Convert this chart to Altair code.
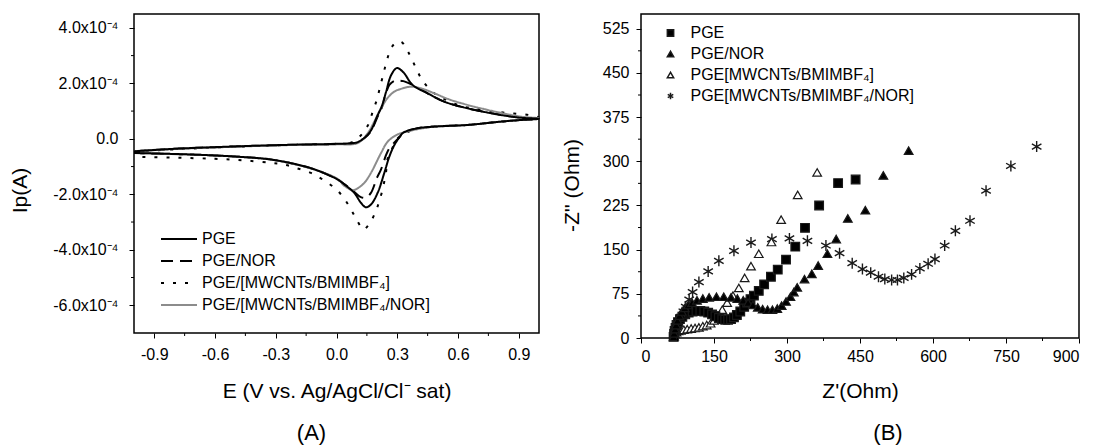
import altair as alt
import pandas as pd

FONT = "Liberation Sans"

# ---------------- Panel A: cyclic voltammograms (current in 1e-4 A) ----------------
cv_labels = ["PGE", "PGE/NOR", "PGE/[MWCNTs/BMIMBF\u2084]", "PGE/[MWCNTs/BMIMBF\u2084/NOR]"]

pge_E = [-1.0, -0.8, -0.6, -0.4, -0.2, 0.0, 0.1, 0.14, 0.17, 0.2, 0.225, 0.245, 0.27, 0.298, 0.33, 0.376,
         0.45, 0.532, 0.647, 0.812, 0.911, 1.0,
         0.911, 0.812, 0.647, 0.483, 0.4, 0.33, 0.31, 0.286, 0.261, 0.236, 0.203, 0.17, 0.146, 0.121, 0.088,
         0.04, 0.006, -0.08, -0.16, -0.32, -0.5, -0.7, -1.0]
pge_I = [-0.45, -0.36, -0.3, -0.25, -0.21, -0.18, -0.13, 0.05, 0.3, 0.8, 1.2, 1.7, 2.3, 2.55, 2.4, 1.94,
         1.64, 1.34, 1.1, 0.86, 0.76, 0.72,
         0.68, 0.62, 0.5, 0.44, 0.38, 0.22, 0.05, -0.22, -0.64, -1.23, -1.95, -2.37, -2.47, -2.31, -1.95,
         -1.65, -1.47, -1.18, -0.99, -0.75, -0.64, -0.57, -0.51]

nor_E = [-1.0, -0.8, -0.6, -0.4, -0.2, 0.0, 0.1, 0.14, 0.17, 0.2, 0.225, 0.24, 0.262, 0.29, 0.31, 0.33,
         0.376, 0.45, 0.532, 0.647, 0.812, 0.911, 1.0,
         0.911, 0.812, 0.647, 0.483, 0.4, 0.33, 0.31, 0.29, 0.26, 0.244, 0.22, 0.2, 0.17, 0.145, 0.12,
         0.088, 0.04, 0.006, -0.08, -0.16, -0.32, -0.5, -0.7, -1.0]
nor_I = [-0.45, -0.36, -0.3, -0.25, -0.21, -0.18, -0.13, 0.04, 0.28, 0.75, 1.15, 1.55, 1.95, 2.1, 2.1, 2.08,
         1.94, 1.64, 1.34, 1.1, 0.86, 0.76, 0.72,
         0.68, 0.62, 0.5, 0.44, 0.38, 0.22, 0.05, -0.1, -0.35, -0.6, -1.1, -1.4, -1.95, -2.12, -2.1,
         -1.92, -1.64, -1.47, -1.18, -0.99, -0.75, -0.64, -0.57, -0.51]

mw_E = [-1.0, -0.8, -0.6, -0.4, -0.2, 0.0, 0.07, 0.114, 0.154, 0.179, 0.2, 0.216, 0.233, 0.249, 0.273,
        0.3, 0.322, 0.36, 0.393, 0.426, 0.483, 0.549, 0.615, 0.677, 0.743, 0.809, 0.875, 0.95, 1.0,
        0.911, 0.812, 0.647, 0.483, 0.4, 0.335, 0.3, 0.275, 0.253, 0.244, 0.223, 0.2, 0.17, 0.135, 0.124,
        0.088, 0.047, 0.0, -0.068, -0.126, -0.2, -0.258, -0.323, -0.45, -0.6, -0.8, -1.0]
mw_I = [-0.45, -0.38, -0.31, -0.26, -0.22, -0.19, -0.14, 0.08, 0.47, 0.98, 1.43, 1.9, 2.38, 2.84, 3.31,
        3.5, 3.49, 3.05, 2.54, 2.09, 1.64, 1.38, 1.18, 1.1, 1.02, 0.96, 0.91, 0.86, 0.76,
        0.68, 0.62, 0.5, 0.44, 0.38, 0.18, 0.0, -0.35, -0.7, -1.23, -1.95, -2.49, -2.97, -3.27, -3.21,
        -2.76, -2.25, -1.83, -1.47, -1.23, -1.05, -0.93, -0.87, -0.78, -0.72, -0.68, -0.65]

mwnor_E = [-1.0, -0.8, -0.6, -0.4, -0.2, 0.0, 0.105, 0.154, 0.185, 0.22, 0.25, 0.285, 0.327, 0.368, 0.417,
           0.483, 0.565, 0.73, 0.911, 1.0,
           0.911, 0.812, 0.647, 0.483, 0.37, 0.3, 0.253, 0.22, 0.17, 0.137, 0.105, 0.08, 0.04, 0.006,
           -0.08, -0.16, -0.32, -0.5, -0.7, -1.0]
mwnor_I = [-0.45, -0.37, -0.31, -0.26, -0.22, -0.2, -0.15, 0.2, 0.6, 1.1, 1.45, 1.7, 1.82, 1.88, 1.82,
           1.64, 1.4, 1.07, 0.8, 0.74,
           0.68, 0.62, 0.5, 0.44, 0.3, 0.15, -0.1, -0.51, -1.23, -1.59, -1.78, -1.85, -1.7, -1.45,
           -1.18, -1.0, -0.75, -0.64, -0.57, -0.51]

cv_ticks_x = [-0.9, -0.6, -0.3, 0.0, 0.3, 0.6, 0.9]
cv_minor_x = [-0.75, -0.45, -0.15, 0.15, 0.45, 0.75]
cv_ticks_y = [-6, -4, -2, 0, 2, 4]
cv_minor_y = [-5, -3, -1, 1, 3]

# ---------------- Panel B: Nyquist plots (Ohm) ----------------
eis_labels = ["PGE", "PGE/NOR", "PGE[MWCNTs/BMIMBF\u2084]", "PGE[MWCNTs/BMIMBF\u2084/NOR]"]

pge_zr = [67, 68, 69, 71, 73, 76, 80, 85, 91, 98, 106, 114, 122, 130, 138, 146, 153, 160, 167, 173, 179,
          185, 191, 197, 204, 212, 218, 225, 232, 242, 253, 267, 281, 298, 317, 337, 366, 405, 441]
pge_zi = [2, 7, 12, 17, 22, 27, 32, 36, 40, 43, 45, 46, 46, 45, 43, 40, 37, 34, 32, 31, 31,
          32, 35, 39, 45, 53, 60, 66, 72, 80, 91, 104, 116, 133, 155, 187, 225, 263, 269]

nor_zr = [67, 68, 70, 72, 75, 79, 84, 90, 97, 105, 115, 127, 140, 155, 170, 185, 198, 210, 220, 230, 240,
          250, 260, 270, 280, 289, 298, 307, 314, 321, 336, 351, 364, 383, 401, 425, 461, 498, 550]
nor_zi = [2, 8, 15, 22, 30, 38, 45, 51, 56, 60, 64, 67, 69, 70, 70, 69, 67, 64, 60, 56, 52,
          49, 48, 48, 50, 55, 62, 70, 78, 86, 100, 109, 123, 143, 168, 203, 217, 276, 318]

mw_zr = [68, 70, 73, 77, 82, 88, 95, 103, 111, 119, 127, 135, 143, 150, 158, 167, 177, 189, 201, 213,
         226, 242, 268, 288, 322, 362]
mw_zi = [3, 7, 10, 12, 13, 14, 15, 16, 17, 18, 20, 22, 25, 30, 38, 48, 60, 72, 85, 102,
         122, 143, 163, 201, 243, 281]

mwnor_zr = [68, 70, 73, 77, 82, 87, 92, 99, 106, 119, 138, 160, 191, 226, 269, 305, 342, 380, 408, 434,
            455, 472, 488, 501, 515, 527, 540, 556, 573, 590, 604, 624, 646, 676, 709, 760, 813]
mwnor_zi = [5, 12, 20, 28, 36, 45, 53, 65, 78, 95, 113, 131, 148, 162, 168, 169, 165, 157, 144, 127,
            117, 111, 104, 100, 98.5, 98.5, 102, 108, 118, 126, 134, 157, 182, 199, 250, 292, 325]

eis_ticks_x = [0, 150, 300, 450, 600, 750, 900]
eis_minor_x = [75, 225, 375, 525, 675, 825]
eis_ticks_y = [0, 75, 150, 225, 300, 375, 450, 525]
eis_minor_y = [37.5, 112.5, 187.5, 262.5, 337.5, 412.5, 487.5]


def frame(label, xs, ys, xn, yn):
    return pd.DataFrame({"series": label, xn: xs, yn: ys, "idx": list(range(len(xs)))})


# draw order: dashed, dotted, gray, solid on top
cv_df = pd.concat([
    frame(cv_labels[1], nor_E, nor_I, "E", "I"),
    frame(cv_labels[2], mw_E, mw_I, "E", "I"),
    frame(cv_labels[3], mwnor_E, mwnor_I, "E", "I"),
    frame(cv_labels[0], pge_E, pge_I, "E", "I"),
], ignore_index=True)

eis_df = pd.concat([
    frame(eis_labels[3], mwnor_zr, mwnor_zi, "zr", "zi"),
    frame(eis_labels[2], mw_zr, mw_zi, "zr", "zi"),
    frame(eis_labels[0], pge_zr, pge_zi, "zr", "zi"),
    frame(eis_labels[1], nor_zr, nor_zi, "zr", "zi"),
], ignore_index=True)

axis_style = dict(domain=False, grid=False, tickSize=5, tickColor="black", tickWidth=1,
                  labelFont=FONT, labelFontSize=16, labelColor="black",
                  titleFont=FONT, titleFontSize=21, titleColor="black", titleFontWeight="normal")

# ---------------- Panel A chart ----------------
WA, HA = 405, 319
xA = alt.Scale(domain=[-1, 1], nice=False, zero=False)
yA = alt.Scale(domain=[-7, 4.5], nice=False, zero=False)

axA_x = alt.Axis(values=cv_ticks_x, title="E (V vs. Ag/AgCl/Cl\u207b sat)",
                 labelExpr="(datum.value < 0 ? '-' : '') + format(abs(datum.value), '.1f')",
                 labelPadding=8, titleY=64, titleBaseline="alphabetic", **axis_style)
axA_y = alt.Axis(values=cv_ticks_y, title="Ip(A)",
                 labelExpr="datum.value == 0 ? '0.0' : (datum.value < 0 ? '-' : '') + format(abs(datum.value), '.1f') + 'x10\u207b\u2074'",
                 labelPadding=11, titleX=-104, titleY=176, titleAngle=270, titleAlign="center",
                 titleBaseline="bottom", **axis_style)

legA = alt.Legend(title=None, orient="none", legendX=25, legendY=217, direction="vertical",
                  symbolType="M-3,0L3,0", symbolSize=144, symbolStrokeWidth=2,
                  symbolOffset=12, labelOffset=15, padding=0, rowPadding=6,
                  labelFont=FONT, labelFontSize=16, labelColor="black", labelLimit=400)

linesA = alt.Chart(cv_df).mark_line(strokeWidth=2, interpolate="catmull-rom").encode(
    x=alt.X("E:Q", scale=xA, axis=axA_x),
    y=alt.Y("I:Q", scale=yA, axis=axA_y),
    color=alt.Color("series:N", scale=alt.Scale(domain=cv_labels,
                    range=["#000000", "#000000", "#000000", "#8c8c8c"]), legend=legA),
    strokeDash=alt.StrokeDash("series:N", scale=alt.Scale(domain=cv_labels,
                              range=[[1, 0], [12, 7], [3, 9], [1, 0]]), legend=legA),
    order=alt.Order("idx:Q"),
)

minorAx = alt.Chart(pd.DataFrame({"E": cv_minor_x})).mark_rule(color="black", strokeWidth=1).encode(
    x=alt.X("E:Q", scale=xA, axis=axA_x), y=alt.value(HA), y2=alt.value(HA + 3))
minorAy = alt.Chart(pd.DataFrame({"I": cv_minor_y})).mark_rule(color="black", strokeWidth=1).encode(
    y=alt.Y("I:Q", scale=yA, axis=axA_y), x=alt.value(-3), x2=alt.value(0))

chartA = alt.layer(linesA, minorAx, minorAy).properties(
    width=WA, height=HA,
    title=alt.TitleParams("(A)", orient="bottom", anchor="middle", dx=-25, offset=22,
                          font=FONT, fontSize=22, fontWeight="normal", color="black"))

# ---------------- Panel B chart ----------------
WB, HB = 438, 324
xB = alt.Scale(domain=[0, 900], nice=False, zero=False)
yB = alt.Scale(domain=[0, 550], nice=False, zero=False)

axB_x = alt.Axis(values=eis_ticks_x, title="Z'(Ohm)", format="d",
                 labelPadding=5, titleY=59, titleBaseline="alphabetic", **axis_style)
axB_y = alt.Axis(values=eis_ticks_y, title="-Z'' (Ohm)", format="d",
                 labelPadding=7, titleX=-59, titleY=171, titleAngle=270,
                 titleAlign="center", titleBaseline="bottom", **axis_style)

AST = "M0,-1L0,1M-0.87,-0.5L0.87,0.5M-0.87,0.5L0.87,-0.5"

legB = alt.Legend(title=None, orient="none", legendX=20, legendY=11, direction="vertical",
                  symbolSize=40, symbolOffset=1.5, labelOffset=12, padding=0, rowPadding=5,
                  labelFont=FONT, labelFontSize=16, labelColor="black", labelLimit=400)

shape_enc = alt.Shape("series:N", scale=alt.Scale(domain=eis_labels,
                      range=["square", "triangle-up", "triangle-up", AST]), legend=legB)
fill_enc = alt.Fill("series:N", scale=alt.Scale(domain=eis_labels,
                    range=["#000000", "#000000", "#ffffff", "#000000"]), legend=legB)

base_pts = alt.Chart(eis_df).encode(
    x=alt.X("zr:Q", scale=xB, axis=axB_x),
    y=alt.Y("zi:Q", scale=yB, axis=axB_y),
    shape=shape_enc,
    fill=fill_enc,
    stroke=alt.value("#1a1a1a"),
)

astB = base_pts.transform_filter(alt.datum.series == eis_labels[3]).mark_point(
    filled=True, opacity=1, strokeWidth=1.4, size=120)
otherB = base_pts.transform_filter(alt.datum.series != eis_labels[3]).mark_point(
    filled=True, opacity=1, strokeWidth=1.2, size=75)

minorBx = alt.Chart(pd.DataFrame({"zr": eis_minor_x})).mark_rule(color="black", strokeWidth=1).encode(
    x=alt.X("zr:Q", scale=xB, axis=axB_x), y=alt.value(HB), y2=alt.value(HB + 3))
minorBy = alt.Chart(pd.DataFrame({"zi": eis_minor_y})).mark_rule(color="black", strokeWidth=1).encode(
    y=alt.Y("zi:Q", scale=yB, axis=axB_y), x=alt.value(-3), x2=alt.value(0))

chartB = alt.layer(astB, otherB, minorBx, minorBy).properties(
    width=WB, height=HB,
    title=alt.TitleParams("(B)", orient="bottom", anchor="middle", dx=28, offset=22,
                          font=FONT, fontSize=22, fontWeight="normal", color="black"))

chart = alt.hconcat(chartA, chartB, spacing=102, bounds="flush").resolve_scale(
    color="independent", shape="independent", fill="independent", strokeDash="independent"
).configure_view(stroke="black", strokeWidth=1.5).properties(
    padding={"left": 0, "top": 5, "right": 5, "bottom": 0}
)

chart.save("out.html", embed_options={"renderer": "svg", "actions": False})
